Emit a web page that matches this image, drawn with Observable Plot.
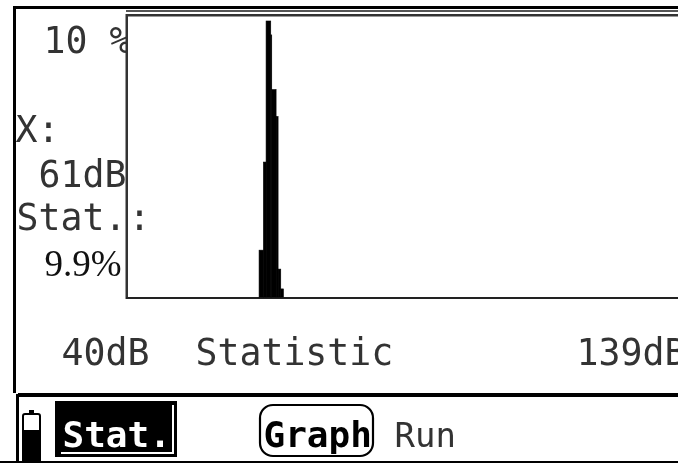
<!DOCTYPE html>
<html><head><meta charset="utf-8">
<script src="https://cdn.jsdelivr.net/npm/d3@7"></script>
<script src="https://cdn.jsdelivr.net/npm/@observablehq/plot@0.6"></script>
<style>html,body{margin:0;padding:0;background:#fff}svg{display:block;filter:blur(.45px)}</style>
</head><body><script>
// Histogram: bin edges (dB) and percentages
const binStart=[59.8,60.45,60.85,61.55,61.7,62.35,62.65,63.05];
const binEnd=[60.45,60.85,61.55,61.7,62.35,62.65,63.05,63.45];
const percent=[1.68,4.84,9.9,9.4,7.44,6.47,1.0,0.29];
const bins=percent.map((p,i)=>({x1:binStart[i],x2:binEnd[i],y:p}));
// Screen texts
const sideLabels=["10 %","X:","61dB","Stat."];
const sideLeft=[43,15,38,16];
const sideBase=[52,141,186,229];
const lowLabels=[":","40dB","Statistic","139dB","Run"];
const lowLeft=[128,61,195,576,394];
const lowBase=[229,364,364,364,446];
const lowSize=[36.5,36.5,36.5,36.5,34];

const font="'DejaVu Sans Mono',monospace";
const placed=(left,base,size)=>({
  frameAnchor:"top-left",text:d=>d,textAnchor:"start",lineAnchor:"bottom",fontFamily:font,fill:"#333",
  render(i,s,v,d,c,n){const el=n(i,s,v,d,c);d3.select(el).selectAll("text")
    .attr("transform",(_,k)=>`translate(${left[k]},${base[k]})`)
    .attr("font-size",(_,k)=>size?size[k]:36.5);return el;}
});
const chrome=()=>{
  const g=d3.create("svg:g");
  const rect=(x,y,w,h,o={})=>{const r=g.append("rect").attr("x",x).attr("y",y).attr("width",w).attr("height",h).attr("fill",o.fill??"#000");
    if(o.stroke)r.attr("stroke",o.stroke).attr("stroke-width",o.sw??2);if(o.rx)r.attr("rx",o.rx);return r;};
  rect(127,15,551,283,{fill:"#fff"}); // plot area hides the clipped label ends
  rect(13,6,665,3);          // outer top
  rect(13,6,3,387);          // outer left
  rect(126,10,552,2,{fill:"#555"});
  rect(126,14,552,2.5,{fill:"#333"});
  rect(125.5,14,2.5,285,{fill:"#333"});
  rect(126,297,552,2,{fill:"#222"});
  rect(18,393,660,4);        // footer band
  rect(16,394,3,69);
  rect(0,461,678,2);
  // battery
  rect(23,414,17,49,{fill:"#fff",stroke:"#000",sw:2,rx:2});
  rect(29,410,5,4);
  rect(22,430,19,33);
  // Stat. tab
  rect(55,401,122,56);
  rect(61,452,112,2,{fill:"#fff"});
  rect(172,405,2,49,{fill:"#fff"});
  // Graph tab
  rect(260,405,113,51,{fill:"#fff",stroke:"#000",sw:2.2,rx:13});
  return g.node();
};
const plot=Plot.plot({
  width:678,height:463,margin:0,
  x:{domain:[40,122.6],range:[127,678],axis:null},
  y:{domain:[0,9.9],range:[297,21],axis:null},
  marks:[
    Plot.text(sideLabels,placed(sideLeft,sideBase)),
    chrome,
    Plot.rectY(bins,{x1:"x1",x2:"x2",y1:0,y2:"y",fill:"#000",stroke:"#000",strokeWidth:0.6}),
    Plot.text(lowLabels,placed(lowLeft,lowBase,lowSize)),
    Plot.text(["9.9%"],{frameAnchor:"top-left",text:d=>d,textAnchor:"start",lineAnchor:"bottom",dx:44,dy:275,fontFamily:"'Liberation Serif',serif",fontSize:37,fill:"#111"}),
    Plot.text(["Stat."],{frameAnchor:"top-left",text:d=>d,textAnchor:"start",lineAnchor:"bottom",dx:62,dy:446,fontFamily:font,fontWeight:"bold",fontSize:36,fill:"#fff"}),
    Plot.text(["Graph"],{frameAnchor:"top-left",text:d=>d,textAnchor:"start",lineAnchor:"bottom",dx:263,dy:446,fontFamily:font,fontWeight:"bold",fontSize:36,fill:"#000"})
  ]
});
document.body.append(plot);
</script></body></html>
